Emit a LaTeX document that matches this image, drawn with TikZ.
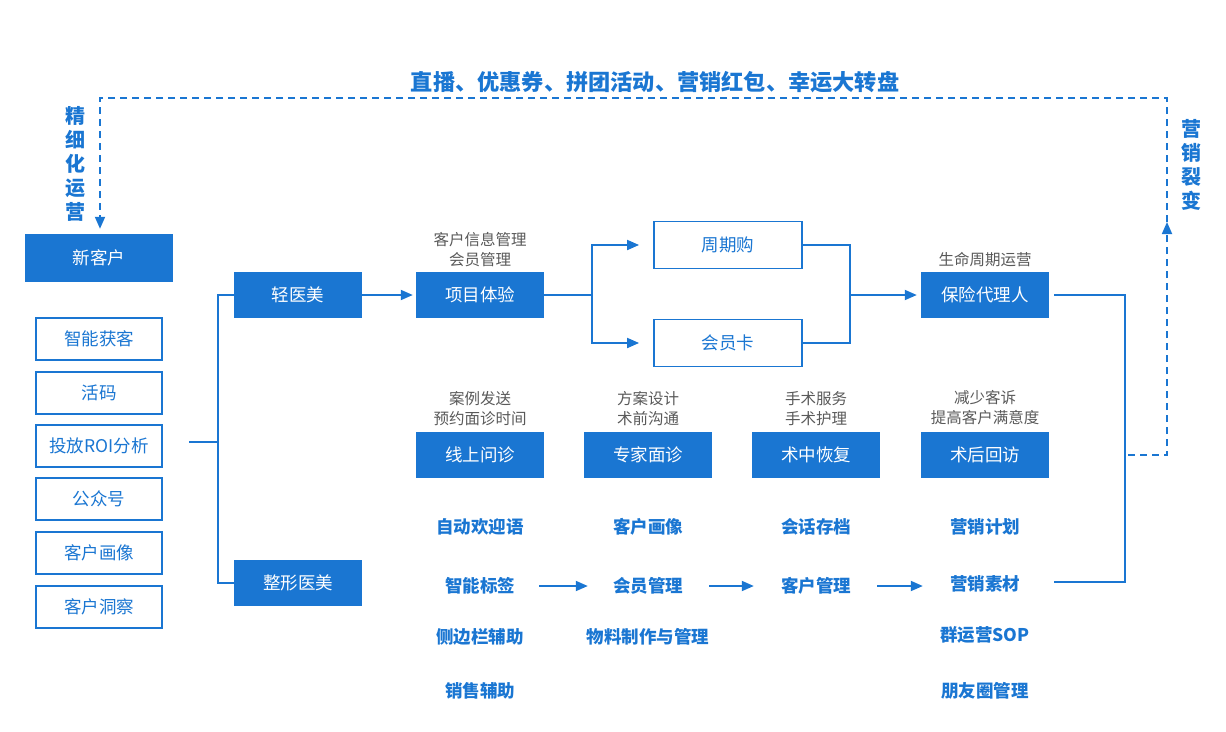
\documentclass[tikz,border=0pt]{standalone}
\usepackage{fontspec}
\setmainfont{Noto Sans CJK SC}
\usetikzlibrary{arrows.meta}
\definecolor{mblue}{HTML}{1A76D2}
\definecolor{mgrey}{HTML}{595959}

\begin{document}
\begin{tikzpicture}[x=1pt,y=-1pt,
  fillbox/.style={fill=mblue,text=white,minimum width=128pt,minimum height=46pt,inner sep=0pt,
    font=\fontsize{17.5}{19}\selectfont},
  linebox/.style={draw=mblue,line width=1.8pt,fill=white,text=mblue,inner sep=0pt,
    font=\fontsize{17.5}{19}\selectfont},
  note/.style={text=mgrey,align=center,font=\fontsize{15.5}{20}\selectfont},
  item/.style={text=mblue,inner sep=2pt,font=\fontsize{17.5}{19}\selectfont\bfseries},
  side/.style={text=mblue,align=center,font=\fontsize{20}{24}\selectfont\bfseries},
  conn/.style={draw=mblue,line width=1.8pt},
  arr/.style={conn,-{Triangle[length=12pt,width=10pt]}},
  loop/.style={conn,dash pattern=on 7pt off 5pt}]

\useasboundingbox (0,0) rectangle (1226,731);

\node (title) [text=mblue,font=\fontsize{22.2}{24}\selectfont\bfseries] at (655,82)
  {直播、优惠券、拼团活动、营销红包、幸运大转盘};
\node (jx) [side] at (75,164) {精\\细\\化\\运\\营};
\node (yx) [side] at (1191,165) {营\\销\\裂\\变};

\node (xkh) [fillbox,minimum width=148pt,minimum height=48pt] at (99,258) {新客户};
\node (l1) [linebox,minimum width=126pt,minimum height=42pt] at (99,339) {智能获客};
\node (l2) [linebox,minimum width=126pt,minimum height=42pt] at (99,393) {活码};
\node (l3) [linebox,minimum width=126pt,minimum height=42pt] at (99,446) {投放ROI分析};
\node (l4) [linebox,minimum width=126pt,minimum height=42pt] at (99,499) {公众号};
\node (l5) [linebox,minimum width=126pt,minimum height=42pt] at (99,553) {客户画像};
\node (l6) [linebox,minimum width=126pt,minimum height=42pt] at (99,607) {客户洞察};

\node (qym) [fillbox] at (298,295) {轻医美};
\node (zxm) [fillbox] at (298,583) {整形医美};

\node (xmty) [fillbox] at (480,295) {项目体验};
\node (zqg) [linebox,minimum width=148pt,minimum height=47pt] at (728,245) {周期购};
\node (hyk) [linebox,minimum width=148pt,minimum height=47pt] at (728,343) {会员卡};
\node (bx) [fillbox] at (985,295) {保险代理人};

\node (xs) [fillbox] at (480,455) {线上问诊};
\node (zj) [fillbox] at (648,455) {专家面诊};
\node (sz) [fillbox] at (816,455) {术中恢复};
\node (sh) [fillbox] at (985,455) {术后回访};

\node [note,above=1pt] at (xmty.north) {客户信息管理\\会员管理};
\node [note,above=1pt] at (bx.north) {生命周期运营};
\node [note,above=3pt] at (xs.north) {案例发送\\预约面诊时间};
\node [note,above=3pt] at (zj.north) {方案设计\\术前沟通};
\node [note,above=3pt] at (sz.north) {手术服务\\手术护理};
\node [note,above=3pt] at (sh.north) {减少客诉\\提高客户满意度};

\node (a1) [item] at (480,527) {自动欢迎语};
\node (a2) [item] at (480,586) {智能标签};
\node (a3) [item] at (480,637) {侧边栏辅助};
\node (a4) [item] at (480,691) {销售辅助};
\node (b1) [item] at (648,527) {客户画像};
\node (b2) [item] at (648,586) {会员管理};
\node (b3) [item] at (648,637) {物料制作与管理};
\node (c1) [item] at (816,527) {会话存档};
\node (c2) [item] at (816,586) {客户管理};
\node (d1) [item] at (985,527) {营销计划};
\node (d2) [item] at (985,584) {营销素材};
\node (d3) [item] at (985,635) {群运营SOP};
\node (d4) [item] at (985,691) {朋友圈管理};

\coordinate (lg) at (189,442);
\coordinate (fork) at (218,442);
\coordinate (sp) at (592,295);
\coordinate (jn) at (850,295);
\coordinate (rb) at (1125,582);
\coordinate (de) at (1054,582);
\coordinate (ds) at (1128,455);
\coordinate (up) at (1167,222);
\coordinate (tr) at (1167,98);
\coordinate (tl) at (100,98);

\draw[conn] (lg) -- (fork);
\draw[conn] (qym.west) -| (fork) |- (zxm.west);
\draw[arr,shorten >=3pt] (qym) -- (xmty);
\draw[conn] (xmty.east) -- (sp);
\draw[arr,shorten >=14pt] (sp) |- (zqg.west);
\draw[arr,shorten >=14pt] (sp) |- (hyk.west);
\draw[conn] (zqg.east) -| (jn);
\draw[conn] (hyk.east) -| (jn);
\draw[arr,shorten >=4pt] (jn) -- (bx.west);
\draw[conn] ([xshift=5pt]bx.east) -| (rb) -- (de);

\draw[arr,shorten <=22pt,shorten >=23pt] (a2.east) -- (b2.west);
\draw[arr,shorten <=24pt,shorten >=25pt] (b2.east) -- (c2.west);
\draw[arr,shorten <=24pt,shorten >=25pt] (c2.east) -- (c2.east -| d2.west);

\draw[loop,-{Triangle[length=12pt,width=10pt]}] (ds) -| (up);
\draw[loop,-{Triangle[length=12pt,width=10pt]},shorten >=5pt] (up) -- (tr) -- (tl) -- (tl |- xkh.north);
\end{tikzpicture}
\end{document}
